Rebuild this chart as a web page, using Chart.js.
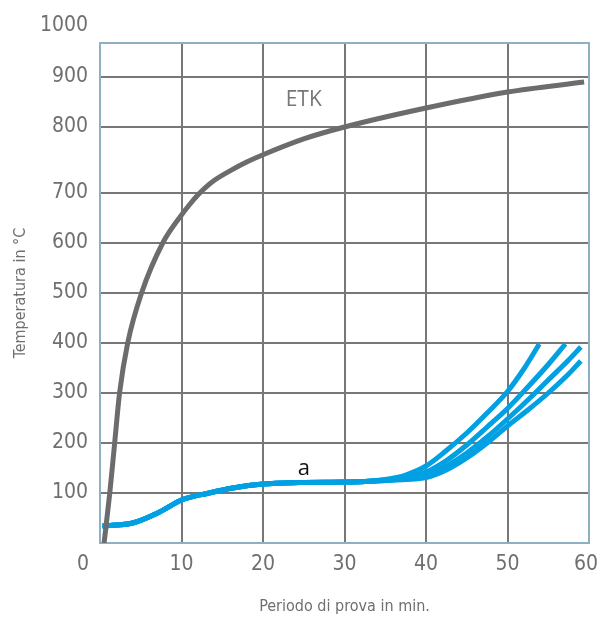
<!DOCTYPE html>
<html>
<head>
<meta charset="utf-8">
<script src="https://cdn.jsdelivr.net/npm/chart.js@4.4.1/dist/chart.umd.min.js"></script>
<style>
  html, body { margin: 0; padding: 0; background: #fff; }
  #wrap { width: 598px; height: 617px; position: relative; }
</style>
</head>
<body>
<div id="wrap"><canvas id="chart"></canvas></div>
<script>
// tick labels
const xTicks = [0, 10, 20, 30, 40, 50, 60];
const yTicks = [100, 200, 300, 400, 500, 600, 700, 800, 900];

// ETK curve (minutes / °C)
const etkTime = [0.5, 1.2, 1.8, 2.4, 3.4, 5.1, 7.7, 10, 11, 12, 13, 14, 16, 18, 20, 25, 30, 40, 50, 59.4];
const etkTemp = [0, 100, 200, 300, 400, 500, 600, 656, 677, 696, 709, 719, 734, 747, 758, 782, 800, 838, 870, 890];

// common start of the "a" curves
const baseTime = [0.3, 2, 4, 7.3, 10, 13.4, 16.3, 20, 24.5, 30, 32.5];
const baseTemp = [34, 36, 40, 62, 86, 100, 110, 118, 121, 122, 123];

// the four branches
const branch1Time = [35, 37.5, 40, 42.5, 45, 47.5, 50, 52, 53.9];
const branch1Temp = [127, 136, 154, 185, 220, 260, 303, 348, 398];
const branch2Time = [35, 37.5, 40, 42.5, 45, 47.5, 50, 52.5, 55, 57.1];
const branch2Temp = [126, 131, 142, 165, 196, 232, 269, 312, 357, 398];
const branch3Time = [35, 37.5, 40, 42.5, 45, 47.5, 50, 52.5, 55, 57.5, 59];
const branch3Temp = [125, 129, 136, 154, 180, 212, 248, 286, 326, 366, 392];
const branch4Time = [35, 37.5, 40, 42.5, 45, 47.5, 50, 52.5, 55, 57.5, 59];
const branch4Temp = [125, 127, 131, 146, 170, 200, 234, 266, 300, 338, 364];

// the temperature axis is not linear: 700..800 is stretched
function toAxis(t) {
  if (t <= 700) return t;
  if (t <= 800) return 700 + (t - 700) * 1.32;
  return 832 + (t - 800);
}

function points(times, temps) {
  return times.map((t, i) => ({ x: t, y: toAxis(temps[i]) }));
}

const labelFont = "'DejaVu Sans Condensed', 'Liberation Sans Narrow', sans-serif";
const textGray = '#6f6f6f';
const blue = '#00a0e2';

const lineStyle = (color) => ({
  borderColor: color,
  borderWidth: 5,
  pointRadius: 0,
  fill: false,
  cubicInterpolationMode: 'monotone',
  borderCapStyle: 'butt'
});

const branches = [
  [branch1Time, branch1Temp],
  [branch2Time, branch2Temp],
  [branch3Time, branch3Temp],
  [branch4Time, branch4Temp]
];

const datasets = [
  { label: 'ETK', data: points(etkTime, etkTemp), ...lineStyle('#6c6c6c') }
];
branches.forEach(([bt, bv], i) => {
  datasets.push({
    label: 'a' + (i + 1),
    data: points(baseTime.concat(bt), baseTemp.concat(bv)),
    ...lineStyle(blue)
  });
});

// frame, corner labels and curve names
const overlay = {
  id: 'overlay',
  beforeDatasetsDraw(chart) {
    const { ctx, chartArea: a } = chart;
    ctx.save();
    ctx.strokeStyle = '#8eb0c3';
    ctx.lineWidth = 2;
    ctx.strokeRect(a.left, a.top, a.right - a.left, a.bottom - a.top);
    ctx.restore();
  },
  afterDraw(chart) {
    const { ctx, chartArea: a, scales: { x, y } } = chart;
    const tickY = a.bottom + 22;
    ctx.save();
    ctx.fillStyle = textGray;
    ctx.font = '21px ' + labelFont;
    ctx.textBaseline = 'middle';
    ctx.textAlign = 'right';
    ctx.fillText('1000', a.left - 12, y.getPixelForValue(toAxis(1000)) - 1);
    ctx.fillText('60', chart.width, tickY);
    ctx.textAlign = 'center';
    ctx.fillText('0', a.left - 17, tickY);

    ctx.fillStyle = '#777';
    ctx.font = "21px 'Open Sans', sans-serif";
    ctx.fillText('ETK', x.getPixelForValue(25), y.getPixelForValue(886));
    ctx.fillStyle = '#111';
    ctx.font = "22px 'Open Sans', sans-serif";
    ctx.fillText('a', x.getPixelForValue(25), y.getPixelForValue(toAxis(149)));
    ctx.restore();
  }
};

new Chart(document.getElementById('chart'), {
  type: 'line',
  data: { datasets },
  options: {
    responsive: true,
    maintainAspectRatio: false,
    animation: false,
    layout: { padding: { top: 43, right: 9, left: 0, bottom: 0 } },
    plugins: {
      legend: { display: false },
      tooltip: { enabled: false }
    },
    scales: {
      x: {
        type: 'linear',
        min: 0,
        max: 60,
        afterBuildTicks: (scale) => { scale.ticks = xTicks.map(v => ({ value: v })); },
        afterFit: (scale) => { scale.height = 74; scale.paddingLeft = 0; scale.paddingRight = 0; },
        grid: { color: '#777', lineWidth: 2, drawTicks: false },
        border: { display: false },
        ticks: {
          color: textGray,
          font: { family: labelFont, size: 21 },
          padding: 9,
          maxRotation: 0,
          // first and last labels sit at the edges, drawn by the overlay
          callback: (v) => (v === 0 || v === 60 ? '' : String(v))
        },
        title: {
          display: true,
          text: 'Periodo di prova in min.',
          color: textGray,
          font: { family: labelFont, size: 16 },
          padding: { top: 0, bottom: 1 }
        }
      },
      y: {
        type: 'linear',
        min: 0,
        max: 1000,
        afterBuildTicks: (scale) => { scale.ticks = yTicks.map(v => ({ value: toAxis(v) })); },
        afterFit: (scale) => { scale.width = 100; scale.paddingTop = 0; scale.paddingBottom = 0; },
        grid: { color: '#777', lineWidth: 2, drawTicks: false },
        border: { display: false },
        ticks: {
          color: textGray,
          font: { family: labelFont, size: 21 },
          padding: 12,
          callback: (v) => {
            const t = yTicks.find(k => Math.abs(toAxis(k) - v) < 0.01);
            return t === undefined ? '' : String(t);
          }
        },
        title: {
          display: true,
          text: 'Temperatura in °C',
          color: textGray,
          font: { family: labelFont, size: 16 },
          padding: { top: 11, bottom: 0 }
        }
      }
    }
  },
  plugins: [overlay]
});
</script>
</body>
</html>
